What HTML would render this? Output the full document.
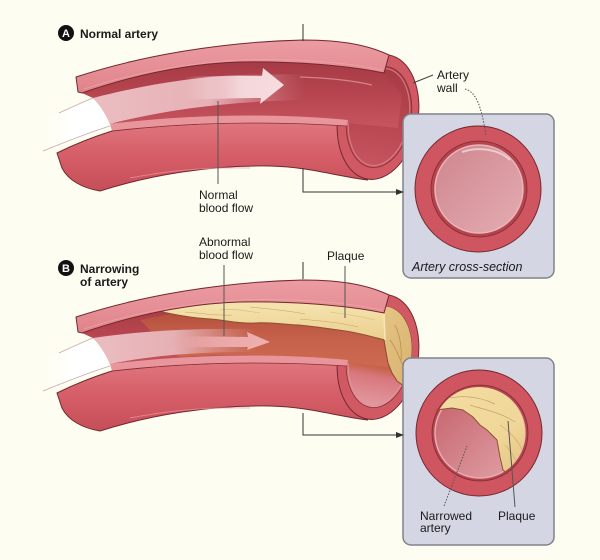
<!DOCTYPE html>
<html><head><meta charset="utf-8">
<style>
html,body{margin:0;padding:0;background:#fdfdf2;}
svg{display:block;}
text{font-family:"Liberation Sans",Arial,sans-serif;fill:#1a1a1a;}
</style></head>
<body>
<svg width="600" height="560" viewBox="0 0 600 560" xmlns="http://www.w3.org/2000/svg">
<defs>
  <linearGradient id="gWall" x1="0" y1="0" x2="0" y2="1">
    <stop offset="0" stop-color="#df767e"/><stop offset="0.45" stop-color="#d65f69"/><stop offset="1" stop-color="#c64e59"/>
  </linearGradient>
  <linearGradient id="gStrip" x1="0" y1="0" x2="0" y2="1">
    <stop offset="0" stop-color="#eb9ca2"/><stop offset="1" stop-color="#e0838a"/>
  </linearGradient>
  <linearGradient id="gInt" x1="0" y1="0" x2="0" y2="1">
    <stop offset="0" stop-color="#a63b45"/><stop offset="0.5" stop-color="#b6454f"/><stop offset="1" stop-color="#c7555f"/>
  </linearGradient>
  <linearGradient id="gIntB" x1="0" y1="0" x2="0" y2="1">
    <stop offset="0" stop-color="#b4503d"/><stop offset="0.6" stop-color="#c6624a"/><stop offset="0.7" stop-color="#d8787e"/><stop offset="1" stop-color="#e29ba1"/>
  </linearGradient>
  <linearGradient id="gBrown" x1="0" y1="0" x2="0" y2="1">
    <stop offset="0" stop-color="#b04b39"/><stop offset="0.5" stop-color="#c5614a"/><stop offset="1" stop-color="#cd6a50"/>
  </linearGradient>
  <linearGradient id="gLumA" gradientUnits="userSpaceOnUse" x1="93" y1="0" x2="305" y2="0">
    <stop offset="0" stop-color="#eabdc1"/><stop offset="0.55" stop-color="#e6b1b6"/><stop offset="1" stop-color="#d98c93" stop-opacity="0"/>
  </linearGradient>
  <linearGradient id="gLumB" gradientUnits="userSpaceOnUse" x1="93" y1="0" x2="255" y2="0">
    <stop offset="0" stop-color="#eabdc1"/><stop offset="0.5" stop-color="#e6b0b4"/><stop offset="1" stop-color="#e0a2a6" stop-opacity="0"/>
  </linearGradient>
  <linearGradient id="gArrA" gradientUnits="userSpaceOnUse" x1="185" y1="0" x2="284" y2="0">
    <stop offset="0" stop-color="#f4d6d9" stop-opacity="0"/><stop offset="0.55" stop-color="#f4d6d9"/><stop offset="1" stop-color="#f6dde0"/>
  </linearGradient>
  <linearGradient id="gArrB" gradientUnits="userSpaceOnUse" x1="165" y1="0" x2="270" y2="0">
    <stop offset="0" stop-color="#eaa6a7" stop-opacity="0"/><stop offset="0.45" stop-color="#eaa6a7"/><stop offset="1" stop-color="#eeb0b0"/>
  </linearGradient>
  <linearGradient id="gWhite" gradientUnits="userSpaceOnUse" x1="40" y1="0" x2="100" y2="0">
    <stop offset="0" stop-color="#ffffff" stop-opacity="0"/><stop offset="0.6" stop-color="#ffffff"/><stop offset="1" stop-color="#ffffff"/>
  </linearGradient>
  <linearGradient id="gPlaque" x1="0" y1="0" x2="0" y2="1">
    <stop offset="0" stop-color="#f5e4b0"/><stop offset="1" stop-color="#ebcf8e"/>
  </linearGradient>
  <linearGradient id="gPlaqueCap" x1="0" y1="0" x2="1" y2="1">
    <stop offset="0" stop-color="#e6c888"/><stop offset="1" stop-color="#d4a866"/>
  </linearGradient>
  <linearGradient id="gLumX" x1="0" y1="0" x2="1" y2="1">
    <stop offset="0" stop-color="#cf858d"/><stop offset="1" stop-color="#e3adb2"/>
  </linearGradient>
  <linearGradient id="gLumXB" x1="0" y1="0" x2="1" y2="1">
    <stop offset="0" stop-color="#c4606a"/><stop offset="1" stop-color="#e2a3a8"/>
  </linearGradient>
  <linearGradient id="gPlaqueX" x1="0" y1="0" x2="1" y2="1">
    <stop offset="0" stop-color="#f3dea4"/><stop offset="0.6" stop-color="#f0d698"/><stop offset="1" stop-color="#dfbb78"/>
  </linearGradient>
  <clipPath id="cpCap"><ellipse cx="379" cy="117" rx="32" ry="51" transform="rotate(10 379 117)"/></clipPath>
  <clipPath id="cpXB"><circle cx="479" cy="433" r="46"/></clipPath>
</defs>

<rect x="0" y="0" width="600" height="560" fill="#fdfdf2"/>

<!-- ================= A : Normal artery ================= -->
<g>
  <path d="M50,117 C65,110 80,103 93,98 C101,106 106,115 110,127 C90,135 65,143 42,152 Z" fill="url(#gWhite)"/>
  <path d="M59,113 C72,107 83,102 93,98" fill="none" stroke="#caa8a3" stroke-width="0.8"/>
  <path d="M43,151 C65,142 88,133 110,126" fill="none" stroke="#caa8a3" stroke-width="0.8"/>

  <path d="M57,153 C75,144 93,137 112,131 C190,122 270,121 340,125 C338,150 350,170 368,180 C335,176 310,167 270,166 C210,165 150,175 100,191 C82,188 68,180 62,168 Z" fill="url(#gWall)" stroke="#74282e" stroke-width="1"/>
  <path d="M130,178 C170,170 210,167 250,168" fill="none" stroke="#e9959c" stroke-width="1" opacity="0.7"/>

  <ellipse cx="378" cy="117" rx="40" ry="63" transform="rotate(10 378 117)" fill="#d05963" stroke="#74282e" stroke-width="1"/>
  <ellipse cx="379" cy="117" rx="32" ry="51" transform="rotate(10 379 117)" fill="url(#gInt)" stroke="#8a3038" stroke-width="0.8"/>
  <ellipse cx="379" cy="117" rx="30" ry="49" transform="rotate(10 379 117)" fill="none" stroke="#dc868d" stroke-width="1.2" opacity="0.8"/>

  <path d="M82,93 C125,78 180,64 240,62 C290,61 345,65 384,73 L402,95 L398,128 L347,123 C290,116 200,114 110,124 C106,114 100,105 93,98 Z" fill="url(#gInt)"/>
  <path d="M300,77 C330,78 355,81 372,85" fill="none" stroke="#e5a0a6" stroke-width="1.2" opacity="0.7"/>

  <path d="M93,98 C140,86 190,77 240,75 L305,74 L305,100 C240,101 170,108 110,124 C106,114 100,105 93,98 Z" fill="url(#gLumA)"/>
  <path d="M185,77 C210,76 240,76 262,76 L263,68 L284,85 L260,104 L261,98 C235,98 210,99 185,100 Z" fill="url(#gArrA)"/>

  <path d="M76,77 C140,56 220,42 303,40 C345,40 370,46 389,55 L384,73 C345,65 290,61 240,62 C180,64 125,78 82,93 L78,92 Z" fill="url(#gStrip)" stroke="#74282e" stroke-width="1"/>
  <path d="M84,89 C130,74 185,63 240,60 C300,58 350,63 382,70" fill="none" stroke="#f0b0b5" stroke-width="0.8" opacity="0.6"/>

  <path d="M110,124 C190,114 280,113 348,120 L347,126 C270,121 190,122 112,131 Z" fill="#e8959b"/>
  <path d="M112,131 C190,122 270,121 347,126" fill="none" stroke="#8a3038" stroke-width="0.7"/>
</g>

<!-- ================= B : Narrowing of artery ================= -->
<g transform="translate(0,240)">
  <path d="M50,117 C65,110 80,103 93,98 C101,106 106,115 110,127 C90,135 65,143 42,152 Z" fill="url(#gWhite)"/>
  <path d="M59,113 C72,107 83,102 93,98" fill="none" stroke="#caa8a3" stroke-width="0.8"/>
  <path d="M43,151 C65,142 88,133 110,126" fill="none" stroke="#caa8a3" stroke-width="0.8"/>

  <path d="M57,153 C75,144 93,137 112,131 C190,122 270,121 340,125 C338,150 350,170 368,180 C335,176 310,167 270,166 C210,165 150,175 100,191 C82,188 68,180 62,168 Z" fill="url(#gWall)" stroke="#74282e" stroke-width="1"/>
  <path d="M130,178 C170,170 210,167 250,168" fill="none" stroke="#e9959c" stroke-width="1" opacity="0.7"/>

  <ellipse cx="378" cy="117" rx="40" ry="63" transform="rotate(10 378 117)" fill="#d05963" stroke="#74282e" stroke-width="1"/>
  <ellipse cx="379" cy="117" rx="32" ry="51" transform="rotate(10 379 117)" fill="url(#gIntB)" stroke="#8a3038" stroke-width="0.8"/>
  <ellipse cx="379" cy="117" rx="30" ry="49" transform="rotate(10 379 117)" fill="none" stroke="#e0939a" stroke-width="1.2" opacity="0.8"/>

  <path d="M82,93 C125,78 180,64 240,62 C290,61 345,65 384,73 L402,95 L398,128 L347,123 C290,116 200,114 110,124 C106,114 100,105 93,98 Z" fill="url(#gInt)"/>
  <path d="M140,80 C200,66 290,62 384,73 L402,95 L398,128 L347,123 C290,115 230,113 180,117 C160,100 150,90 140,80 Z" fill="url(#gBrown)"/>

  <!-- cap plaque -->
  <g clip-path="url(#cpCap)">
    <path d="M380,55 L440,50 L440,160 L405,147 L397,141 L392,133 L388,123 L386,112 L384,100 Z" fill="url(#gPlaqueCap)"/>
    <path d="M395,85 C400,95 402,108 401,120" fill="none" stroke="#b58a4c" stroke-width="0.7"/>
    <path d="M390,100 C396,108 398,115 404,128" fill="none" stroke="#b58a4c" stroke-width="0.7"/>
  </g>
  <path d="M384,100 L386,112 L388,123 L392,133 L397,141 L405,147" fill="none" stroke="#8a4a2e" stroke-width="1"/>

  <path d="M93,98 C140,91 190,88 255,89 L255,112 C190,112 150,116 110,124 C106,114 100,105 93,98 Z" fill="url(#gLumB)"/>
  <path d="M170,97 C200,96 225,97 248,97 L247,92 L270,102 L247,110 L248,107 C225,107 200,107 170,108 Z" fill="url(#gArrB)"/>

  <!-- body plaque -->
  <path d="M158,71 C190,65 215,62 240,62 C290,61 345,65 384,73 L385,100 C372,97 360,93 345,91 C325,88 310,86 298,85 C280,84 268,82 255,83 C240,84 225,80 210,79 C190,78 172,74 158,71 Z" fill="url(#gPlaque)"/>
  <path d="M158,71 C172,74 190,78 210,79 C225,80 240,84 255,83 C268,82 280,84 298,85 C310,86 325,88 345,91 C360,93 372,97 385,100" fill="none" stroke="#8b4f32" stroke-width="1"/>
  <path d="M185,72 C200,73 215,76 232,75" fill="none" stroke="#c9a263" stroke-width="0.6"/>
  <path d="M250,67 C268,69 285,70 305,74" fill="none" stroke="#c9a263" stroke-width="0.6"/>
  <path d="M300,79 C320,81 338,82 358,87" fill="none" stroke="#c9a263" stroke-width="0.6"/>
  <path d="M220,70 C235,68 245,71 260,73" fill="none" stroke="#d8b877" stroke-width="0.6"/>
  <path d="M330,72 C345,74 360,76 375,80" fill="none" stroke="#d8b877" stroke-width="0.6"/>
  <path d="M384,73 L385,100" fill="none" stroke="#f6e6b8" stroke-width="1.5"/>

  <path d="M76,77 C140,56 220,42 303,40 C345,40 370,46 389,55 L384,73 C345,65 290,61 240,62 C180,64 125,78 82,93 L78,92 Z" fill="url(#gStrip)" stroke="#74282e" stroke-width="1"/>
  <path d="M84,89 C130,74 185,63 240,60 C300,58 350,63 382,70" fill="none" stroke="#f0b0b5" stroke-width="0.8" opacity="0.6"/>

  <path d="M110,124 C190,114 280,113 348,120 L347,126 C270,121 190,122 112,131 Z" fill="#e8959b"/>
  <path d="M112,131 C190,122 270,121 347,126" fill="none" stroke="#8a3038" stroke-width="0.7"/>
</g>

<!-- ================= Cross-section boxes ================= -->
<rect x="403" y="114" width="151" height="164" rx="8" fill="#d4d7e3" stroke="#80828b" stroke-width="1.5"/>
<circle cx="478" cy="189" r="63" fill="#cf5660" stroke="#74282e" stroke-width="1"/>
<circle cx="479" cy="189" r="48" fill="#b7434d" stroke="#7e2c33" stroke-width="0.8"/>
<circle cx="479" cy="189" r="44" fill="url(#gLumX)" stroke="#e8b5ba" stroke-width="1.5"/>
<path d="M462,152 C480,146 500,150 510,160" fill="none" stroke="#f3d7da" stroke-width="2" opacity="0.8"/>

<rect x="403" y="358" width="151" height="187" rx="8" fill="#d4d7e3" stroke="#80828b" stroke-width="1.5"/>
<circle cx="479" cy="433" r="63" fill="#cf5660" stroke="#74282e" stroke-width="1"/>
<circle cx="480" cy="433" r="48" fill="#b7434d" stroke="#7e2c33" stroke-width="0.8"/>
<circle cx="480" cy="433" r="45" fill="url(#gLumXB)" stroke="#e6adb2" stroke-width="1.5"/>
<g clip-path="url(#cpXB)">
  <path d="M436,410 L452,408 L463,410 L473,417 L480,425 L487,430 L497,440 L500,457 L503,470 L512,476 L545,480 L545,380 L425,380 L425,410 Z" fill="url(#gPlaqueX)"/>
  <path d="M450,398 C465,395 480,397 495,404" fill="none" stroke="#c9a263" stroke-width="0.7"/>
  <path d="M470,405 C485,410 500,412 515,422" fill="none" stroke="#c9a263" stroke-width="0.7"/>
  <path d="M500,425 C510,432 518,440 522,450" fill="none" stroke="#d1ad6c" stroke-width="0.7"/>
  <path d="M505,445 C512,452 515,458 518,466" fill="none" stroke="#d1ad6c" stroke-width="0.7"/>
</g>
<path d="M436,410 L452,408 L463,410 L473,417 L480,425 L487,430 L497,440 L500,457 L503,470 L508,474" fill="none" stroke="#8a5530" stroke-width="1"/>

<!-- ================= Connectors ================= -->
<g stroke="#333" stroke-width="1" fill="none">
  <path d="M303,24 L303,41"/>
  <path d="M303,168 L303,192 L398,192"/>
  <path d="M303,262 L303,279"/>
  <path d="M303,413 L303,435 L398,435"/>
  <path d="M218,101 L218,184" stroke="#555"/>
  <path d="M224,265 L224,336" stroke="#555"/>
  <path d="M345,266 L345,318" stroke="#555"/>
  <path d="M433,75 L413,83" stroke="#444"/>
  <path d="M515,507 L508,421" stroke="#555"/>
</g>
<path d="M396,189 L404,192 L396,195 Z" fill="#333"/>
<path d="M396,432 L404,435 L396,438 Z" fill="#333"/>
<path d="M465,89 C476,92 481,105 486,135" fill="none" stroke="#555" stroke-width="1" stroke-dasharray="1.5,1.5"/>
<path d="M444,506 L467,446" fill="none" stroke="#555" stroke-width="1" stroke-dasharray="1.5,1.5"/>

<!-- ================= Labels ================= -->
<circle cx="66" cy="33" r="8" fill="#111"/>
<text x="66" y="37" font-size="11" font-weight="bold" text-anchor="middle" style="fill:#fff">A</text>
<text x="80" y="38" font-size="12" font-weight="bold">Normal artery</text>

<circle cx="66" cy="268" r="8" fill="#111"/>
<text x="66" y="272" font-size="11" font-weight="bold" text-anchor="middle" style="fill:#fff">B</text>
<text x="80" y="273" font-size="12" font-weight="bold">Narrowing</text>
<text x="80" y="286" font-size="12" font-weight="bold">of artery</text>

<text x="199" y="199" font-size="12">Normal</text>
<text x="199" y="212" font-size="12">blood flow</text>

<text x="199" y="246" font-size="12">Abnormal</text>
<text x="199" y="259" font-size="12">blood flow</text>

<text x="327" y="260" font-size="12">Plaque</text>

<text x="437" y="79" font-size="12">Artery</text>
<text x="437" y="92" font-size="12">wall</text>

<text x="412" y="271" font-size="12.5" font-style="italic">Artery cross-section</text>

<text x="420" y="520" font-size="12">Narrowed</text>
<text x="420" y="532" font-size="12">artery</text>
<text x="498" y="520" font-size="12">Plaque</text>
</svg>
</body></html>
